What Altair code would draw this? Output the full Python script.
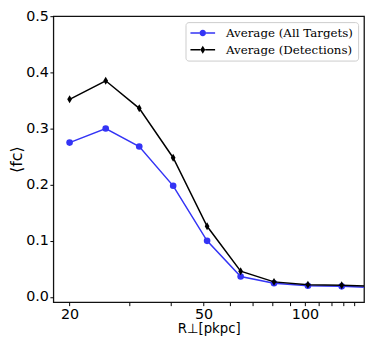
import altair as alt
import pandas as pd

# ---- data ----
r_bins = [20.0, 25.6, 32.2, 40.6, 51.2, 64.4, 80.9, 102.0, 128.5, 162.0]
f_all = [0.275, 0.300, 0.268, 0.198, 0.100, 0.0365, 0.0245, 0.020, 0.019, 0.0166]
f_det = [0.352, 0.385, 0.336, 0.248, 0.126, 0.046, 0.027, 0.022, 0.021, 0.0192]
series = ["Average (All Targets)", "Average (Detections)"]
colors = ["#3434f5", "#000000"]
x_ticks = [20, 30, 40, 50, 60, 70, 80, 90, 100, 110, 120, 130, 140]
x_labels = [20, 50, 100]
y_ticks = [0.0, 0.1, 0.2, 0.3, 0.4, 0.5]

n = len(r_bins)
df = pd.DataFrame({
    "r": r_bins + r_bins,
    "f": f_all + f_det,
    "series": [series[0]] * n + [series[1]] * n,
})

label_test = " || ".join(f"datum.value == {v}" for v in x_labels)

xenc = alt.X(
    "r:Q",
    scale=alt.Scale(type="log", domain=[17.9, 149.7], nice=False),
    axis=alt.Axis(
        values=x_ticks,
        labelExpr=f"({label_test}) ? format(datum.value, 'd') : ''",
        labelOverlap=False,
        labelFlush=False,
        tickSize=3.5,
        labelPadding=2,
        title="R⊥[pkpc]",
        titleFontSize=13.5,
        titleY=27,
        titleBaseline="middle",
    ),
)
yenc = alt.Y(
    "f:Q",
    scale=alt.Scale(domain=[-0.0092, 0.5], nice=False, zero=False),
    axis=alt.Axis(
        values=y_ticks,
        format=".1f",
        tickSize=3.5,
        labelPadding=1.5,
        title="⟨fᴄ⟩",
        titleFontSize=16,
        titleAngle=270,
        titleX=-37,
        titleY=145,
        titleAlign="center",
        titleBaseline="middle",
    ),
)

base = alt.Chart(df)

circle_path = "circle"
diamond_path = "M0,-1L0.6,0L0,1L-0.6,0Z"
point_shapes = [circle_path, diamond_path]
point_sizes = [45, 64]

legend_paths = [
    "M-1.2,-0.15L0.64,-0.15L0.64,0.15L-1.2,0.15Z "
    "M1.96,-0.15L3.8,-0.15L3.8,0.15L1.96,0.15Z "
    "M0.64,0A0.66,0.66 0 1,0 1.96,0A0.66,0.66 0 1,0 0.64,0Z",
    "M-1.2,-0.15L0.8,-0.15L0.8,0.15L-1.2,0.15Z "
    "M1.8,-0.15L3.8,-0.15L3.8,0.15L1.8,0.15Z "
    "M1.3,-0.8L1.8,0L1.3,0.8L0.8,0Z",
]

layers = []
for s, c, shp, sz in zip(series, colors, point_shapes, point_sizes):
    sub = base.transform_filter(alt.datum.series == s)
    layers.append(sub.mark_line(color=c, strokeWidth=1.5, clip=True).encode(x=xenc, y=yenc))
    layers.append(
        sub.mark_point(filled=True, shape=shp, size=sz, color=c, opacity=1, clip=True)
        .encode(x=xenc, y=yenc)
    )

leg = alt.Legend(
    title=None,
    orient="top-right",
    offset=6,
    fillColor="white",
    strokeColor="#cccccc",
    cornerRadius=3,
    padding=5,
    rowPadding=5,
    symbolSize=100,
    symbolStrokeWidth=0,
    symbolOpacity=1,
    labelFont="DejaVu Serif",
    labelFontSize=12,
    labelColor="black",
    labelOffset=24,
    labelLimit=300,
)

legend_layer = base.mark_point(filled=True, opacity=0).encode(
    x=xenc,
    y=yenc,
    color=alt.Color("series:N", scale=alt.Scale(domain=series, range=colors), legend=leg),
    shape=alt.Shape("series:N", scale=alt.Scale(domain=series, range=legend_paths), legend=leg),
)
layers.append(legend_layer)

chart = (
    alt.layer(*layers)
    .properties(
        width=315,
        height=290,
        autosize=alt.AutoSizeParams(type="none"),
        padding={"left": 46, "top": 6, "right": 2, "bottom": 34},
    )
    .configure_view(stroke="#111111", strokeWidth=1.3)
    .configure_axis(
        labelFont="DejaVu Sans",
        labelFontSize=14.5,
        labelColor="black",
        tickColor="black",
        tickWidth=1,
        domain=False,
        grid=False,
        titleFont="DejaVu Sans",
        titleFontWeight="normal",
        titleColor="black",
    )
)

chart.save("out.html", embed_options={"renderer": "svg", "actions": False})
